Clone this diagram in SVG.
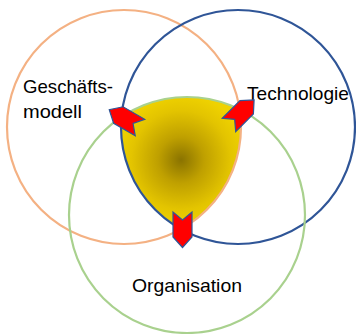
<svg xmlns="http://www.w3.org/2000/svg" xmlns:xlink="http://www.w3.org/1999/xlink" width="356" height="334" viewBox="0 0 356 334">
  <style>
    .ring { fill: none; stroke-width: 2.2; }
    .lbl { font-family: "Liberation Sans", Arial, sans-serif; font-size: 19px; fill: #000; }
    .chev { fill: #FF0000; stroke: #2F5597; stroke-width: 1.2; stroke-linejoin: miter; }
  </style>
  <defs>
    <radialGradient id="core" gradientUnits="userSpaceOnUse" cx="181" cy="160" r="66">
      <stop offset="0" stop-color="#8A7300"/>
      <stop offset="0.35" stop-color="#BFA000"/>
      <stop offset="0.75" stop-color="#E3C400"/>
      <stop offset="1" stop-color="#EFD200"/>
    </radialGradient>
    <polygon id="chevron" points="0,-9.5 25,-9.5 35.5,0 25,9.5 0,9.5 8,0"/>
  </defs>

  <rect width="356" height="334" fill="#FFFFFF"/>

  <g id="kern">
    <path d="M121.5,117 A118,118 0 0 1 239.7,109.4 A117,117 0 0 1 181,229.2 A117,117 0 0 1 121.5,117 Z" fill="url(#core)"/>
  </g>

  <g id="geschaeftsmodell">
    <circle class="ring" cx="124" cy="127" r="117" stroke="#F4B183"/>
    <text class="lbl" x="23" y="93" textLength="90" lengthAdjust="spacingAndGlyphs">Geschäfts-</text>
    <text class="lbl" x="23" y="118" textLength="59" lengthAdjust="spacingAndGlyphs">modell</text>
  </g>

  <g id="technologie">
    <circle class="ring" cx="238" cy="127" r="117" stroke="#2F5597"/>
    <text class="lbl" x="247" y="99.5" textLength="102" lengthAdjust="spacingAndGlyphs">Technologie</text>
  </g>

  <g id="organisation">
    <circle class="ring" cx="187" cy="215" r="118" stroke="#A9D18E"/>
    <text class="lbl" x="132" y="291.5" textLength="110" lengthAdjust="spacingAndGlyphs">Organisation</text>
  </g>

  <g id="connectors">
    <use xlink:href="#chevron" class="chev" transform="translate(140,127.5) rotate(210)"/>
    <use xlink:href="#chevron" class="chev" transform="translate(229,125) rotate(-45)"/>
    <use xlink:href="#chevron" class="chev" transform="translate(182.5,212) rotate(90)"/>
  </g>
</svg>
